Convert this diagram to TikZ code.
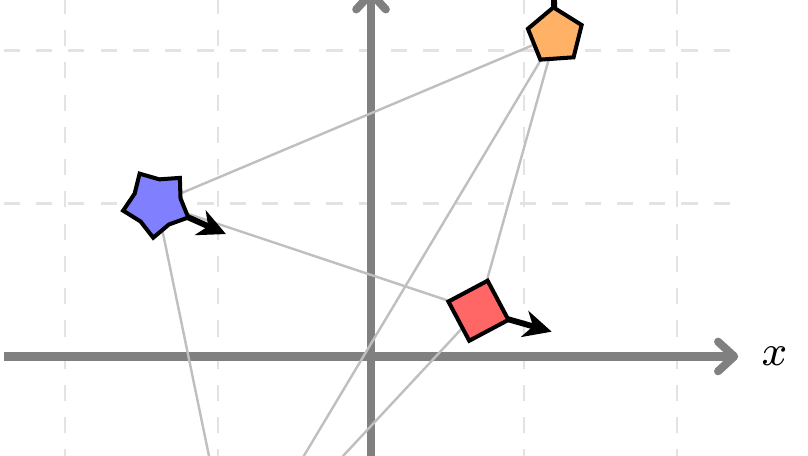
\documentclass[tikz,border=0pt]{standalone}
\usetikzlibrary{shapes.geometric,arrows.meta}
\begin{document}
\begin{tikzpicture}[
  gridline/.style={black!11, dashed, line width=0.4pt},
  axisline/.style={black!50, line width=1.5pt, -{Straight Barb[length=3pt,width=5.5pt,round]}},
  link/.style={black!25, line width=0.45pt},
  vel/.style={line width=1.1pt, -{Stealth[length=5.2pt,width=5pt,inset=1.6pt]}},
  body/.style={draw=black, line width=0.75pt, inner sep=0pt, outer sep=0pt}
]
\clip (-2.425,-0.644) rectangle (2.856,2.330);
% grid
\draw[gridline] (-2.4,-2.4) grid (2.4,2.4);
% axes
\coordinate (xl) at (-2.4,0);
\coordinate (xr) at (2.4,0);
\coordinate (yb) at (0,-2.4);
\coordinate (yt) at (0,2.4);
\draw[axisline] (xl) -- (xr);
\draw[axisline] (yb) -- (yt);
\node[font=\footnotesize, inner sep=0pt] (xlabel) at (2.637,0) {$x$};
% bodies positions
\coordinate (star) at (-1.4,1.0);
\coordinate (pent) at (1.205,2.097);
\coordinate (sq) at (0.702,0.299);
\coordinate (hid) at (-0.9,-1.42);
% velocity tips
\coordinate (starv) at (-0.948,0.800);
\coordinate (sqv) at (1.181,0.162);
\coordinate (pentv) at (1.185,2.60);
% links
\draw[link] (star) -- (pent);
\draw[link] (star) -- (sq);
\draw[link] (pent) -- (sq);
\draw[link] (star) -- (hid);
\draw[link] (pent) -- (hid);
\draw[link] (sq) -- (hid);
% velocities
\draw[vel] (star) -- (starv);
\draw[vel] (sq) -- (sqv);
\draw[vel] (pent) -- (pentv);
% bodies
\node[body, star, star points=5, star point ratio=1.42, minimum size=0.45cm, fill=blue!50, rotate=30] (starbody) at (star) {};
\node[body, regular polygon, regular polygon sides=5, minimum size=0.37cm, fill=orange!60, rotate=4] (pentbody) at (pent) {};
\node[body, rectangle, minimum size=0.29cm, fill=red!60, rotate=28] (sqbody) at (sq) {};
\end{tikzpicture}
\end{document}
